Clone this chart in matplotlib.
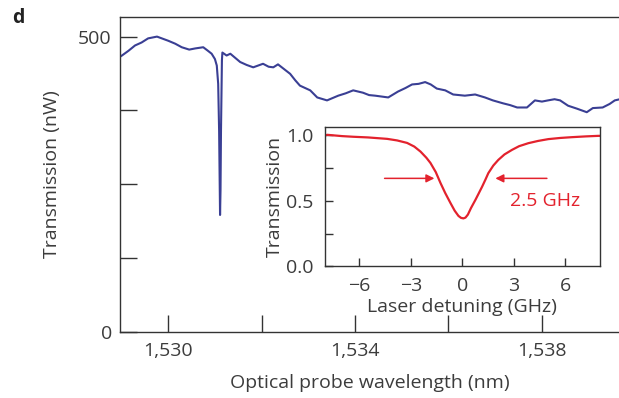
import matplotlib
matplotlib.use("Agg")
import numpy as np
import matplotlib.pyplot as plt

plt.rcParams['font.family'] = ['Open Sans', 'DejaVu Sans']
plt.rcParams['font.size'] = 14

TEXT = '#3c3c3c'
BLUE = '#3a3f94'
RED = '#e3222d'

# optical probe scan: wavelength (nm) vs transmitted power (nW)
wavelength = [1528.97, 1529.01, 1529.15, 1529.29, 1529.43, 1529.57, 1529.76, 1530.00,
              1530.15, 1530.29, 1530.45, 1530.58, 1530.75, 1530.85, 1530.93, 1531.00,
              1531.04, 1531.07, 1531.09, 1531.11, 1531.12, 1531.13, 1531.15, 1531.16,
              1531.25, 1531.33, 1531.45, 1531.54, 1531.68, 1531.82, 1532.03, 1532.15,
              1532.25, 1532.35, 1532.48, 1532.61, 1532.72, 1532.82, 1533.04, 1533.19,
              1533.40, 1533.52, 1533.64, 1533.80, 1533.96, 1534.17, 1534.30, 1534.43,
              1534.71, 1534.92, 1535.08, 1535.22, 1535.36, 1535.50, 1535.62, 1535.75,
              1535.93, 1536.10, 1536.35, 1536.57, 1536.78, 1536.95, 1537.17, 1537.32,
              1537.47, 1537.68, 1537.85, 1538.00, 1538.13, 1538.27, 1538.39, 1538.56,
              1538.75, 1538.96, 1539.09, 1539.30, 1539.45, 1539.56, 1539.67]
power = [466, 468, 476, 485, 490, 497, 500, 493,
         488, 482, 478, 480, 482, 476, 471, 462,
         451, 420, 340, 198, 240, 340, 460, 473,
         468, 471, 463, 457, 452, 448, 454, 449,
         448, 453, 445, 437, 426, 417, 409, 397,
         392, 396, 400, 404, 409, 405, 401, 400,
         397, 407, 413, 419, 420, 423, 419, 412,
         409, 402, 400, 402, 397, 392, 387, 384,
         380, 380, 392, 390, 392, 394, 392, 383,
         378, 372, 379, 380, 386, 392, 394]

# inset: laser detuning (GHz) vs normalised transmission
detuning = [-8.0, -7.87, -7.0, -6.34, -5.5, -4.38, -3.8, -3.22, -2.8, -2.44, -2.1, -1.86,
            -1.55, -1.28, -1.0, -0.70, -0.45, -0.23, -0.08, 0.06, 0.18, 0.32, 0.50, 0.76,
            0.95, 1.15, 1.35, 1.51, 1.80, 2.09, 2.45, 2.89, 3.3, 3.84, 4.4, 5.0, 5.7, 6.38,
            7.2, 7.91, 8.0]
trans = [1.00, 1.005, 0.995, 0.99, 0.985, 0.974, 0.962, 0.943, 0.915, 0.877, 0.83, 0.79,
         0.72, 0.638, 0.56, 0.485, 0.425, 0.385, 0.37, 0.366, 0.372, 0.395, 0.445, 0.508,
         0.557, 0.609, 0.665, 0.712, 0.77, 0.813, 0.855, 0.890, 0.918, 0.941, 0.958, 0.972,
         0.981, 0.987, 0.993, 0.997, 0.997]

fig = plt.figure(figsize=(6.19, 3.98), dpi=100)
ax = fig.add_axes([0.194, 0.166, 0.806, 0.791])

ax.plot(wavelength, power, color=BLUE, lw=1.5)
ax.set_xlim(1528.97, 1539.65)
ax.set_ylim(0, 533)
ax.set_yticks([0, 125, 250, 375, 500])
ax.set_yticklabels(['0', '', '', '', '500'])
ax.set_xticks([1530, 1532, 1534, 1536, 1538])
ax.set_xticklabels(['1,530', '', '1,534', '', '1,538'])
ax.tick_params(direction='in', length=12, width=1.0, color='#333333',
               labelcolor=TEXT, pad=6)
ax.tick_params(axis='x', pad=7)
for side in ('left', 'bottom', 'top'):
    ax.spines[side].set_color('#333333')
    ax.spines[side].set_linewidth(1.0)
ax.spines['right'].set_visible(False)
ax.set_xlabel('Optical probe wavelength (nm)', color=TEXT, labelpad=10)
ax.set_ylabel('Transmission (nW)', color=TEXT, labelpad=12)

fig.text(0.02, 0.955, 'd', fontsize=14, fontweight='bold', color='#222222',
         va='center', ha='left')

# inset with the resonance lineshape
ins = fig.add_axes([0.525, 0.331, 0.444, 0.350])
ins.plot(detuning, trans, color=RED, lw=1.6)
ins.set_xlim(-8, 8)
ins.set_ylim(0, 1.065)
ins.set_xticks([-6, -3, 0, 3, 6])
ins.set_xticklabels(['\u22126', '\u22123', '0', '3', '6'])
ins.set_yticks([0, 0.25, 0.5, 0.75, 1.0])
ins.set_yticklabels(['0.0', '', '0.5', '', '1.0'])
ins.tick_params(direction='in', length=6, width=1.0, color='#333333',
                labelcolor=TEXT, pad=8)
for s in ins.spines.values():
    s.set_color('#333333')
    s.set_linewidth(1.0)
ins.set_xlabel('Laser detuning (GHz)', color=TEXT, labelpad=2)
ins.set_ylabel('Transmission', color=TEXT, labelpad=2)

arrow = dict(arrowstyle='-|>', color=RED, lw=1.1, mutation_scale=12,
             shrinkA=0, shrinkB=0)
ins.annotate('', xy=(-1.63, 0.672), xytext=(-4.53, 0.672), arrowprops=arrow)
ins.annotate('', xy=(1.92, 0.672), xytext=(4.92, 0.672), arrowprops=arrow)
ins.text(4.83, 0.50, '2.5 GHz', color=RED, fontsize=14, ha='center', va='center')

fig.savefig('out.png', dpi=100)
